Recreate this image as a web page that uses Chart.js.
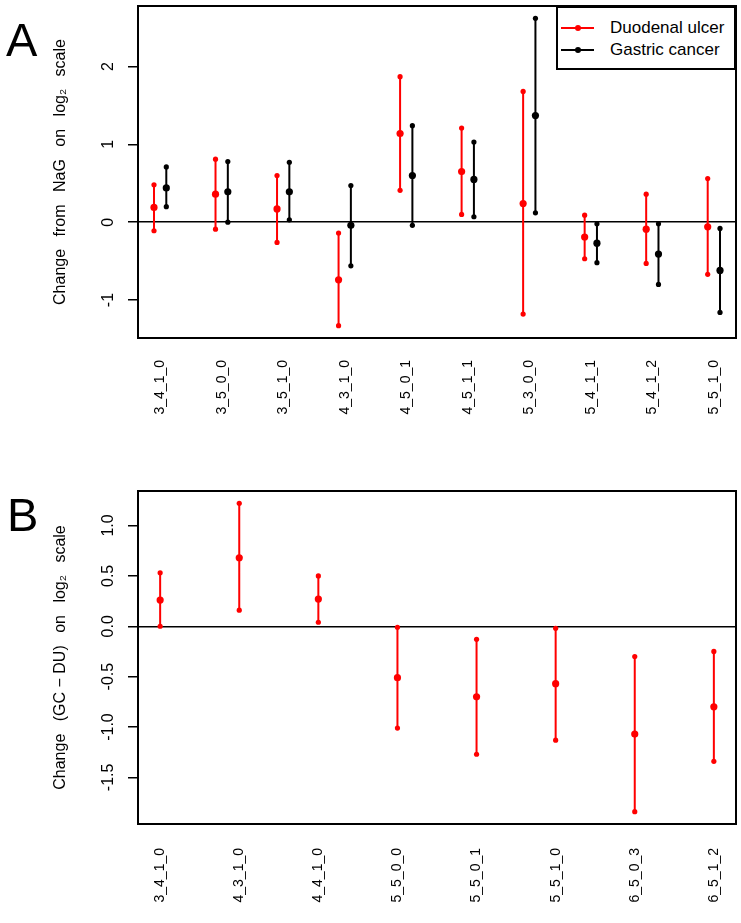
<!DOCTYPE html>
<html><head><meta charset="utf-8">
<script src="https://cdn.jsdelivr.net/npm/chart.js@4.4.0/dist/chart.umd.min.js"></script>
<style>
html,body{margin:0;padding:0;background:#fff;}
body{width:741px;height:923px;position:relative;overflow:hidden;font-family:'Liberation Sans',Arial,sans-serif;}
canvas{position:absolute;left:0;}
#ca{top:0;}
#cb{top:470px;}
.panel{position:absolute;font-family:'Liberation Sans',Arial,sans-serif;font-size:47px;line-height:47px;color:#000;}
.legend{position:absolute;left:556px;top:6px;width:176px;height:60px;border:2px solid #000;background:#fff;}
.legend .ln{position:absolute;left:3px;width:33px;height:2px;}
.legend .dot{position:absolute;left:17px;width:6px;height:6px;border-radius:50%;}
.legend .tx{position:absolute;left:52px;font-size:17px;line-height:20px;color:#000;white-space:nowrap;}
</style>
</head><body>
<canvas id="ca" width="741" height="470"></canvas>
<canvas id="cb" width="741" height="453"></canvas>
<div class="panel" style="left:6px;top:16px;">A</div>
<div class="panel" style="left:7px;top:491px;">B</div>
<div class="legend" id="legend"></div>
<script>
// ---- Panel A data ----
const categoriesA = ['3_4_1_0','3_5_0_0','3_5_1_0','4_3_1_0','4_5_0_1','4_5_1_1','5_3_0_0','5_4_1_1','5_4_1_2','5_5_1_0'];
const duMid  = [0.19, 0.36, 0.17, -0.74, 1.14, 0.65, 0.24, -0.19, -0.09, -0.06];
const duLow  = [-0.11, -0.09, -0.26, -1.33, 0.41, 0.10, -1.18, -0.47, -0.53, -0.67];
const duHigh = [0.48, 0.81, 0.60, -0.14, 1.87, 1.21, 1.68, 0.09, 0.36, 0.56];
const gcMid  = [0.44, 0.39, 0.39, -0.04, 0.60, 0.55, 1.37, -0.27, -0.41, -0.62];
const gcLow  = [0.20, 0.00, 0.03, -0.56, -0.04, 0.07, 0.12, -0.52, -0.80, -1.16];
const gcHigh = [0.71, 0.78, 0.77, 0.47, 1.24, 1.03, 2.62, -0.02, -0.02, -0.08];
const yTicksA = [-1, 0, 1, 2];
const seriesNames = ['Duodenal ulcer', 'Gastric cancer'];

// ---- Panel B data ----
const categoriesB = ['3_4_1_0','4_3_1_0','4_4_1_0','5_5_0_0','5_5_0_1','5_5_1_0','6_5_0_3','6_5_1_2'];
const diffMid  = [0.26, 0.68, 0.27, -0.51, -0.70, -0.57, -1.07, -0.80];
const diffLow  = [0.00, 0.16, 0.04, -1.01, -1.27, -1.13, -1.84, -1.34];
const diffHigh = [0.53, 1.22, 0.50, -0.01, -0.13, -0.02, -0.30, -0.25];
const yTicksB = [-1.5, -1, -0.5, 0, 0.5, 1];

const FAMILY = "'Liberation Sans', Arial, sans-serif";
const RED = '#ff0000', BLACK = '#000000';

function intervals(mid, low, high, shift) {
  const pts = [];
  mid.forEach((m, i) => {
    const x = i + 1 + shift;
    pts.push({x, y: low[i]}, {x, y: m}, {x, y: high[i]}, {x, y: null});
  });
  return pts;
}
function seriesDataset(label, color, data) {
  return {
    label, data, showLine: true, spanGaps: false,
    borderColor: color, backgroundColor: color, borderWidth: 2,
    pointBackgroundColor: color, pointBorderWidth: 0,
    pointRadius: c => (c.dataIndex % 4 === 1 ? 3.6 : 2.6),
    pointHoverRadius: 0
  };
}
function padRange(vals) {
  const mn = Math.min(...vals), mx = Math.max(...vals), r = mx - mn;
  return [mn - 0.04 * r, mx + 0.04 * r];
}
function noPad(s) {
  s.paddingTop = 0; s.paddingBottom = 0; s.paddingLeft = 0; s.paddingRight = 0;
}
const boxPlugin = {
  id: 'box',
  afterDraw(chart) {
    const {ctx, chartArea: a} = chart;
    ctx.save();
    ctx.strokeStyle = '#000';
    ctx.lineWidth = 2;
    ctx.strokeRect(a.left, a.top, a.right - a.left, a.bottom - a.top);
    ctx.restore();
  }
};

function makeChart(canvas, cfg) {
  const n = cfg.categories.length;
  const [xMin, xMax] = padRange([1, n]);
  const [yMin, yMax] = padRange(cfg.allValues);
  return new Chart(canvas, {
    type: 'scatter',
    data: {datasets: cfg.datasets},
    plugins: [boxPlugin],
    options: {
      responsive: false, animation: false, devicePixelRatio: 1,
      layout: {padding: {left: 0, right: 5, top: cfg.padTop, bottom: 0}},
      plugins: {legend: {display: false}, tooltip: {enabled: false}},
      scales: {
        x: {
          type: 'linear', min: xMin, max: xMax,
          afterBuildTicks: s => { s.ticks = cfg.categories.map((c, i) => ({value: i + 1})); },
          afterFit: s => { s.height = cfg.xAxisHeight; noPad(s); },
          grid: {display: false, drawTicks: false},
          border: {display: false},
          ticks: {
            autoSkip: false, minRotation: 90, maxRotation: 90, padding: cfg.xLabelPad,
            color: '#000', font: {size: 14, family: FAMILY},
            callback: v => cfg.categories[Math.round(v) - 1] || ''
          }
        },
        y: {
          type: 'linear', min: yMin, max: yMax,
          afterBuildTicks: s => { s.ticks = cfg.yTicks.map(v => ({value: v})); },
          afterFit: s => { s.width = 138; noPad(s); },
          grid: {
            color: c => (c.tick && c.tick.value === 0) ? '#000' : 'rgba(0,0,0,0)',
            lineWidth: 1.5, tickColor: '#000', tickWidth: 1.5, tickLength: 10, drawTicks: true
          },
          border: {display: false},
          ticks: {
            minRotation: 90, maxRotation: 90, crossAlign: 'center', padding: cfg.yLabelPad,
            color: '#000', font: {size: 16, family: FAMILY},
            callback: cfg.tickFmt
          },
          title: {
            display: true, text: cfg.title, color: '#000',
            font: {size: 16, family: FAMILY}, padding: {top: 51, bottom: 0}
          }
        }
      }
    }
  });
}

const SP = '\u2002 ';
makeChart(document.getElementById('ca'), {
  categories: categoriesA,
  datasets: [
    seriesDataset(seriesNames[0], RED, intervals(duMid, duLow, duHigh, -0.1)),
    seriesDataset(seriesNames[1], BLACK, intervals(gcMid, gcLow, gcHigh, 0.1))
  ],
  allValues: [...duLow, ...duHigh, ...gcLow, ...gcHigh],
  yTicks: yTicksA,
  tickFmt: v => String(v),
  title: 'Change' + SP + 'from' + SP + 'NaG' + SP + 'on' + SP + 'log\u2082' + SP + 'scale',
  padTop: 6, xAxisHeight: 132, xLabelPad: 22, yLabelPad: 12
});

makeChart(document.getElementById('cb'), {
  categories: categoriesB,
  datasets: [seriesDataset('GC - DU', RED, intervals(diffMid, diffLow, diffHigh, 0))],
  allValues: [...diffLow, ...diffHigh],
  yTicks: yTicksB,
  tickFmt: v => v.toFixed(1),
  title: 'Change' + SP + '(GC \u2212 DU)' + SP + 'on' + SP + 'log\u2082' + SP + 'scale',
  padTop: 21, xAxisHeight: 99, xLabelPad: 24, yLabelPad: 6
});

// Legend (HTML)
const legend = document.getElementById('legend');
[[RED, seriesNames[0]], [BLACK, seriesNames[1]]].forEach(([color, name], k) => {
  const cy = 19.5 + k * 22.5;
  legend.insertAdjacentHTML('beforeend',
    `<div class="ln" style="top:${cy - 1}px;background:${color}"></div>` +
    `<div class="dot" style="top:${cy - 3}px;background:${color}"></div>` +
    `<div class="tx" style="top:${cy - 10}px">${name}</div>`);
});
</script>
</body></html>
